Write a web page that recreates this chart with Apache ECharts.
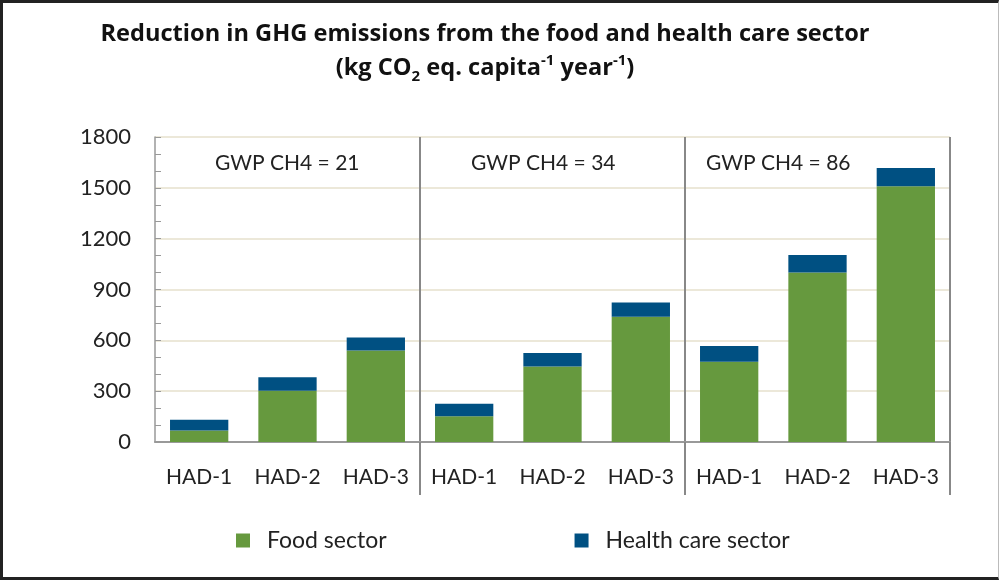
<!DOCTYPE html>
<html>
<head>
<meta charset="utf-8">
<script src="https://cdn.jsdelivr.net/npm/echarts@6/dist/echarts.min.js"></script>
<style>
  html, body { margin: 0; padding: 0; background: #fff; }
  #main {
    width: 999px; height: 580px; box-sizing: border-box;
    border-left: 3px solid #222; border-top: 3px solid #222;
    border-bottom: 3px solid #222; border-right: 1px solid #bbb;
  }
</style>
</head>
<body>
<div id="main"></div>
<script>
// categories and values
var categories = ['HAD-1', 'HAD-2', 'HAD-3', 'HAD-1', 'HAD-2', 'HAD-3', 'HAD-1', 'HAD-2', 'HAD-3'];
var groupLabels = ['GWP CH4 = 21', 'GWP CH4 = 34', 'GWP CH4 = 86'];
var foodSector = [68, 303, 540, 152, 446, 739, 473, 1001, 1509];
var healthSector = [63, 79, 77, 74, 79, 85, 94, 103, 108];
var yTicks = [0, 300, 600, 900, 1200, 1500, 1800];

var chart = echarts.init(document.getElementById('main'));
var font = 'Lato, "Open Sans", sans-serif';
var titleFont = '"Open Sans", sans-serif';

var option = {
  animation: false,
  textStyle: { fontFamily: font },
  title: {
    text: 'Reduction in GHG emissions from the food and health care sector\n' +
      '{n|(kg CO}{sub|2}{n| eq. capita}{sup|-1}{n| year}{sup|-1}{n|)}',
    left: 477,
    top: 8,
    textAlign: 'center',
    textStyle: {
      fontFamily: titleFont, fontSize: 23.6, fontWeight: 'bold', color: '#111', lineHeight: 37,
      rich: {
        n: { fontFamily: titleFont, fontSize: 23.6, fontWeight: 'bold', color: '#111', lineHeight: 31 },
        sub: { fontFamily: titleFont, fontSize: 15, fontWeight: 'bold', color: '#111', lineHeight: 14, verticalAlign: 'bottom' },
        sup: { fontFamily: titleFont, fontSize: 15, fontWeight: 'bold', color: '#111', lineHeight: 14, verticalAlign: 'top' }
      }
    }
  },
  legend: {
    left: 228,
    top: 521,
    itemWidth: 14,
    itemHeight: 14,
    itemGap: 188,
    icon: 'rect',
    textStyle: { fontFamily: font, fontSize: 23, color: '#222', padding: [0, 0, 0, 12] },
    data: ['Food sector', 'Health care sector']
  },
  grid: { left: 152, right: 48, top: 134, bottom: 135 },
  xAxis: {
    type: 'category',
    data: categories,
    axisLine: { lineStyle: { color: '#999', width: 2 } },
    axisTick: {
      show: true,
      length: 53,
      interval: function (i) { return i === 3 || i === 6; },
      lineStyle: { color: '#888', width: 2 }
    },
    splitLine: {
      show: true,
      interval: function (i) { return i === 3 || i === 6; },
      lineStyle: { color: '#888', width: 2 }
    },
    axisLabel: { fontFamily: font, fontSize: 21, color: '#222', margin: 25, interval: 0 }
  },
  yAxis: {
    type: 'value',
    min: yTicks[0],
    max: yTicks[yTicks.length - 1],
    interval: 300,
    axisLine: { show: true, lineStyle: { color: '#999', width: 1.5 } },
    axisTick: { show: true, inside: true, length: 6, lineStyle: { color: '#999' } },
    minorTick: { show: true, splitNumber: 3, length: 6, lineStyle: { color: '#999' } },
    splitLine: { lineStyle: { color: '#e6e1cd', width: 1.5 } },
    axisLabel: {
      fontFamily: font, fontSize: 22, color: '#222', margin: 24,
      formatter: function (v) { return String(v); }
    }
  },
  series: [
    {
      name: 'Food sector',
      type: 'bar',
      stack: 'total',
      barWidth: '66%',
      itemStyle: { color: '#66993e' },
      data: foodSector
    },
    {
      name: 'Health care sector',
      type: 'bar',
      stack: 'total',
      itemStyle: { color: '#005082' },
      data: healthSector
    }
  ],
  graphic: [
    { type: 'text', left: 212, top: 150, style: { text: groupLabels[0], font: '21px ' + font, fill: '#222' } },
    { type: 'text', left: 468, top: 150, style: { text: groupLabels[1], font: '21px ' + font, fill: '#222' } },
    { type: 'text', left: 703, top: 150, style: { text: groupLabels[2], font: '21px ' + font, fill: '#222' } }
  ]
};

chart.setOption(option);
</script>
</body>
</html>
